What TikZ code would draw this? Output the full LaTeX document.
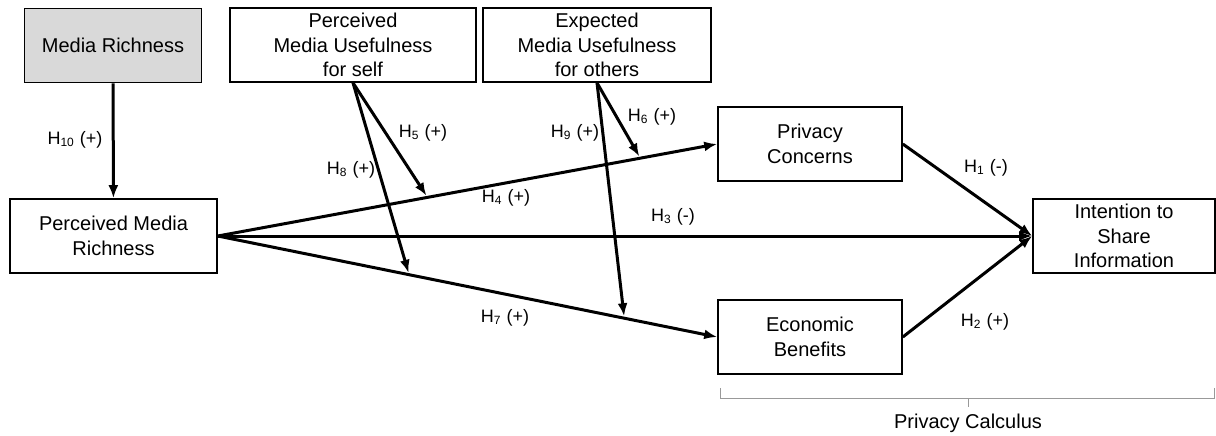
\documentclass[tikz,border=0pt]{standalone}
\usepackage{fontspec}
\setmainfont{Liberation Sans}
\usetikzlibrary{arrows.meta, positioning}

\begin{document}
\begin{tikzpicture}[
    x=0.5pt, y=-0.5pt, % pixel-like units
    >={Latex[length=6.5pt,width=5pt]}, % Default arrow tip
    font=\fontsize{10}{12.2}\selectfont,
    construct/.style={draw, line width=0.8pt, align=center, minimum height=37pt, inner sep=1pt}, % Boxes
    hypo/.style={->, line width=1.5pt}, % Hypothesis paths
    moderator/.style={->, line width=1.5pt, shorten >=1pt}, % Moderating paths
    hlabel/.style={inner sep=1pt, font=\fontsize{9}{11}\selectfont}, % Hypothesis labels
    bracket/.style={gray!80, line width=0.5pt}
]
    \useasboundingbox (0,0) rectangle (1216,435);

    % Constructs
    \node[construct, fill=gray!30, minimum width=88.5pt] (mr) at (113,45.5) {Media Richness};
    \node[construct, minimum width=123pt] (pmus) at (353,45) {Perceived\\Media Usefulness\\for self};
    \node[construct, minimum width=114pt] (emuo) at (597,45) {Expected\\Media Usefulness\\for others};
    \node[construct, minimum width=103.5pt] (pmr) at (113.5,236) {Perceived Media\\Richness};
    \node[construct, minimum width=92pt] (pc) at (810,144) {Privacy\\Concerns};
    \node[construct, minimum width=92pt] (eb) at (810,337) {Economic\\Benefits};
    \node[construct, minimum width=91pt] (its) at (1124,236) {Intention to\\Share\\Information};

    % Direct paths
    \draw[hypo] (mr) -- (pmr);
    \draw[hypo] (pmr.east) -- coordinate[pos=0.42] (m5) coordinate[pos=0.846] (m6) (pc.west);
    \draw[hypo] (pmr.east) -- (its.west);
    \draw[hypo] (pmr.east) -- coordinate[pos=0.383] (m8) coordinate[pos=0.814] (m9) (eb.west);
    \draw[hypo] (pc.east) -- (its.west);
    \draw[hypo] (eb.east) -- (its.west);

    % Moderating paths
    \draw[moderator] (pmus.south) -- (m5);
    \draw[moderator] (pmus.south) -- (m8);
    \draw[moderator] (emuo.south) -- (m6);
    \draw[moderator] (emuo.south) -- (m9);

    % Labels
    \node[hlabel] (l10) at (75,140) {H\textsubscript{10} (+)};
    \node[hlabel] (l1) at (986,168) {H\textsubscript{1} (-)};
    \node[hlabel] (l2) at (985,322) {H\textsubscript{2} (+)};
    \node[hlabel] (l3) at (673,217) {H\textsubscript{3} (-)};
    \node[hlabel] (l4) at (506,198) {H\textsubscript{4} (+)};
    \node[hlabel] (l5) at (423,133) {H\textsubscript{5} (+)};
    \node[hlabel] (l6) at (652,117) {H\textsubscript{6} (+)};
    \node[hlabel] (l7) at (505,318) {H\textsubscript{7} (+)};
    \node[hlabel] (l8) at (351,170) {H\textsubscript{8} (+)};
    \node[hlabel] (l9) at (575,133) {H\textsubscript{9} (+)};

    % Privacy calculus bracket
    \coordinate (calcL) at (720,388);
    \coordinate (calcR) at (1214,388);
    \coordinate (calcM) at (968,398);
    \draw[bracket] (calcL) -- ++(0,10) -| (calcR);
    \draw[bracket] (calcM) -- ++(0,9);
    \node (calc) at (968,423) {Privacy Calculus};
\end{tikzpicture}
\end{document}
